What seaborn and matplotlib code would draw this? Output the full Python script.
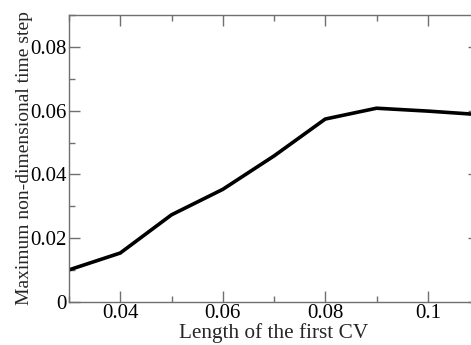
import matplotlib
matplotlib.use("Agg")
import matplotlib.pyplot as plt
import seaborn as sns
import pandas as pd
from matplotlib.ticker import MultipleLocator, FuncFormatter

cv_length = [0.03, 0.04, 0.05, 0.06, 0.07, 0.08, 0.09, 0.10, 0.11]
max_dt = [0.0100, 0.0153, 0.0273, 0.0353, 0.0458, 0.0574, 0.0608, 0.0599, 0.0588]

df = pd.DataFrame({"x": cv_length, "y": max_dt})

sns.set_style("ticks")
plt.rcParams['font.family'] = ['Liberation Serif', 'DejaVu Serif']

fig = plt.figure(figsize=(4.71, 3.45), dpi=100)
ax = fig.add_axes([69/471, (345-301.7)/345, 410/471, (301.7-15.3)/345])

sns.lineplot(data=df, x="x", y="y", ax=ax, color="black", linewidth=2.6)

ax.set_xlim(0.03, 0.11)
ax.set_ylim(0, 0.09)
ax.xaxis.set_major_locator(MultipleLocator(0.02))
ax.xaxis.set_minor_locator(MultipleLocator(0.01))
ax.yaxis.set_major_locator(MultipleLocator(0.02))
ax.yaxis.set_minor_locator(MultipleLocator(0.01))

def fmt(v, pos):
    if abs(v) < 1e-12:
        return "0"
    return f"{v:.2f}".rstrip("0")

ax.xaxis.set_major_formatter(FuncFormatter(fmt))
ax.yaxis.set_major_formatter(FuncFormatter(fmt))

for sp in ax.spines.values():
    sp.set_visible(True)
    sp.set_color("#707070")
    sp.set_linewidth(1.0)

ax.tick_params(which="both", direction="in", top=True, right=True,
               color="#707070", labelsize=15, labelcolor="black")
ax.tick_params(which="major", length=8, width=1.0, pad=1.5)
ax.tick_params(which="minor", length=4.5, width=1.0)

ax.set_xlabel("Length of the first CV", fontsize=15.3)
ax.set_ylabel("Maximum non-dimensional time step", fontsize=14)
ax.xaxis.set_label_coords(0.5, (301.7 - 323.0) / 286.4)
ax.yaxis.set_label_coords((33 - 69) / 410, 0.5)

fig.savefig("out.png", dpi=100)
